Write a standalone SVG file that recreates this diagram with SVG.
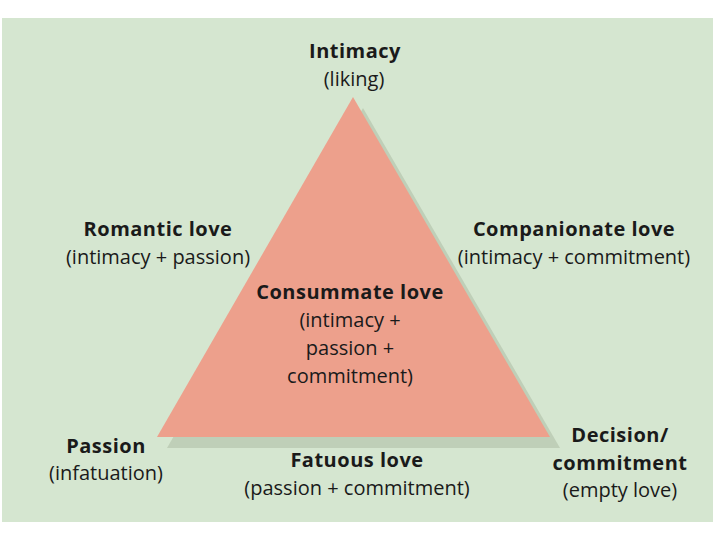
<svg xmlns="http://www.w3.org/2000/svg" width="720" height="540" viewBox="0 0 720 540">
  <style>
    text { font-family: "Open Sans", "DejaVu Sans", sans-serif; fill: #1a1a1a; text-anchor: middle; font-size: 20px; }
    .h { font-weight: bold; letter-spacing: 0.5px; }
  </style>
  <rect x="0" y="0" width="720" height="540" fill="#ffffff"/>
  <rect x="2" y="18" width="711" height="504" fill="#d5e6d0"/>
  <g id="triangle">
    <polygon points="363,108 167,448 560,448" fill="#bfcfb8"/>
    <polygon points="353,97 157,437 550,437" fill="#eda08c"/>
  </g>
  <g id="connectors"></g>
  <g id="intimacy">
    <text class="h" x="355" y="58">Intimacy</text>
    <text x="354" y="86">(liking)</text>
  </g>
  <g id="romantic">
    <text class="h" x="158" y="236">Romantic love</text>
    <text x="158" y="264">(intimacy + passion)</text>
  </g>
  <g id="companionate">
    <text class="h" x="574" y="236">Companionate love</text>
    <text x="574" y="264">(intimacy + commitment)</text>
  </g>
  <g id="consummate">
    <text class="h" x="350" y="299">Consummate love</text>
    <text x="350" y="327">(intimacy +</text>
    <text x="350" y="355">passion +</text>
    <text x="350" y="383">commitment)</text>
  </g>
  <g id="passion">
    <text class="h" x="106" y="453">Passion</text>
    <text x="106" y="480">(infatuation)</text>
  </g>
  <g id="fatuous">
    <text class="h" x="357" y="467">Fatuous love</text>
    <text x="357" y="495">(passion + commitment)</text>
  </g>
  <g id="decision">
    <text class="h" x="620" y="442">Decision/</text>
    <text class="h" x="620" y="470">commitment</text>
    <text x="620" y="497">(empty love)</text>
  </g>
</svg>
